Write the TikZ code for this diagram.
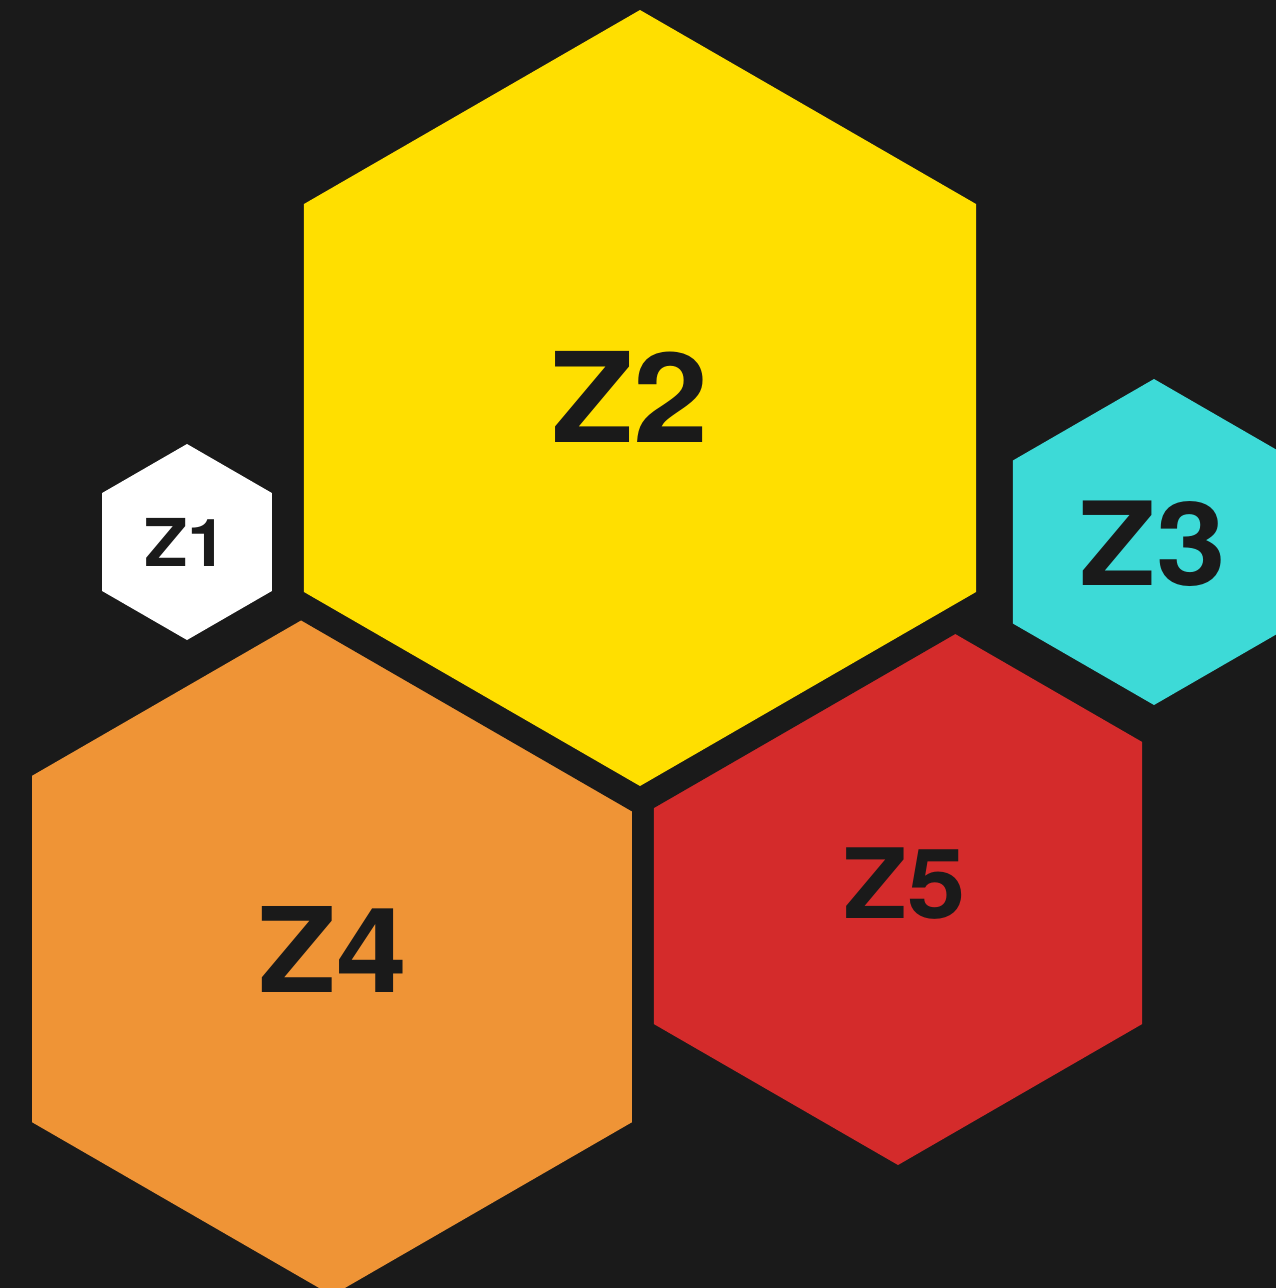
\documentclass[tikz,border=0pt]{standalone}
\usepackage{fontspec}
\setmainfont[FakeStretch=1.08]{TeX Gyre Heros}
\usetikzlibrary{calc}
\definecolor{bgc}{HTML}{1A1A1A}
\definecolor{hyel}{HTML}{FFDF00}
\definecolor{hcya}{HTML}{3DDAD7}
\definecolor{hora}{HTML}{EF9436}
\definecolor{hred}{HTML}{D42B2B}
\newcommand\hexfill[3]{\fill[#3] ($(#1)+(30:#2)$) -- ($(#1)+(90:#2)$) -- ($(#1)+(150:#2)$) -- ($(#1)+(210:#2)$) -- ($(#1)+(270:#2)$) -- ($(#1)+(330:#2)$) -- cycle;}
\tikzset{lbl/.style={text=bgc, inner sep=0pt, outer sep=0pt, anchor=center, font=\bfseries}}
\begin{document}
\begin{tikzpicture}[x=1pt,y=-1pt]
\fill[bgc] (0,0) rectangle (1276,1288);
\useasboundingbox (0,0) rectangle (1276,1288);
\clip (0,0) rectangle (1276,1288);
\coordinate (c1) at (187,542);
\coordinate (c2) at (640,398);
\coordinate (c3) at (1154,542);
\coordinate (c4) at (332,949);
\coordinate (c5) at (898,883);
\hexfill{c4}{346.4}{hora}
\hexfill{c5}{282}{hred}
\hexfill{c2}{418}{bgc}
\hexfill{c2}{388}{hyel}
\hexfill{c1}{98}{white}
\hexfill{c3}{163}{hcya}
\node[lbl, font=\fontsize{66}{66}\selectfont\bfseries] (t1) at (186,542.5) {Z1};
\node[lbl, font=\fontsize{125}{125}\selectfont\bfseries] (t2) at (630,396.5) {Z2};
\node[lbl, font=\fontsize{116}{116}\selectfont\bfseries] (t3) at (1153,544) {Z3};
\node[lbl, font=\fontsize{118}{118}\selectfont\bfseries] (t4) at (333,949.5) {Z4};
\node[lbl, font=\fontsize{97}{97}\selectfont\bfseries] (t5) at (905,884) {Z5};
\end{tikzpicture}
\end{document}
